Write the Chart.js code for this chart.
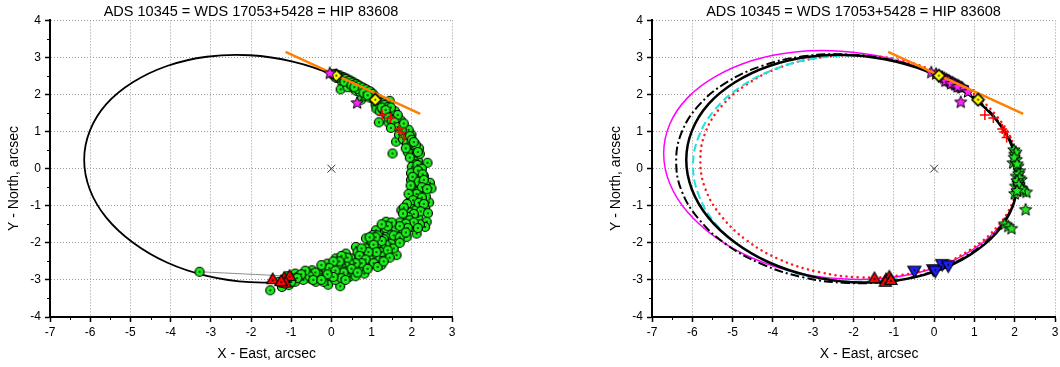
<!DOCTYPE html>
<html>
<head>
<meta charset="utf-8">
<script src="https://cdn.jsdelivr.net/npm/chart.js@4/dist/chart.umd.min.js"></script>
<style>
html, body { margin: 0; padding: 0; background: #fff; overflow: hidden; width: 1060px; height: 367px; }
.box { position: absolute; top: 0; }
</style>
</head>
<body>
<div class="box" style="left:0"><canvas id="orbitLeft" width="530" height="367"></canvas></div>
<div class="box" style="left:530px"><canvas id="orbitRight" width="540" height="367"></canvas></div>
<script>
// ---- data (x = East arcsec, y = North arcsec) ----
var titleText = 'ADS 10345 = WDS 17053+5428 = HIP 83608';
var xTicks = [-7, -6, -5, -4, -3, -2, -1, 0, 1, 2, 3];
var yTicks = [-4, -3, -2, -1, 0, 1, 2, 3, 4];

// orbit solutions, points picked round each apparent ellipse (loops start on the hidden east side)
var orbitMain = [[2.09,-0.24],[1.95,-1.02],[1.54,-1.74],[0.88,-2.33],[0.03,-2.77],[-0.96,-3.02],[-2.03,-3.06],[-3.10,-2.89],[-4.09,-2.53],[-4.94,-1.99],[-5.60,-1.32],[-6.01,-0.56],[-6.15,0.24],[-6.01,1.02],[-5.60,1.74],[-4.94,2.33],[-4.09,2.77],[-3.10,3.02],[-2.03,3.06],[-0.96,2.89],[0.03,2.53],[0.88,1.99],[1.54,1.32],[1.95,0.56],[2.09,-0.24]];
var orbitMagenta = [[2.09,-0.21],[1.94,-1.00],[1.50,-1.71],[0.80,-2.29],[-0.11,-2.72],[-1.17,-2.95],[-2.31,-2.97],[-3.45,-2.79],[-4.51,-2.41],[-5.42,-1.85],[-6.12,-1.17],[-6.56,-0.40],[-6.71,0.41],[-6.56,1.20],[-6.12,1.91],[-5.42,2.49],[-4.51,2.92],[-3.45,3.15],[-2.31,3.17],[-1.17,2.99],[-0.11,2.61],[0.80,2.05],[1.50,1.37],[1.94,0.60],[2.09,-0.21]];
var orbitDashDot = [[2.09,-0.20],[1.95,-0.99],[1.52,-1.72],[0.85,-2.32],[-0.03,-2.77],[-1.06,-3.03],[-2.16,-3.08],[-3.25,-2.93],[-4.28,-2.57],[-5.16,-2.04],[-5.83,-1.37],[-6.26,-0.61],[-6.40,0.20],[-6.26,0.99],[-5.83,1.72],[-5.16,2.32],[-4.28,2.77],[-3.25,3.03],[-2.16,3.08],[-1.06,2.93],[-0.03,2.57],[0.85,2.04],[1.52,1.37],[1.95,0.61],[2.09,-0.20]];
var orbitCyan = [[-0.90,-2.97],[-1.95,-3.05],[-2.99,-2.93],[-3.96,-2.60],[-4.80,-2.10],[-5.44,-1.46],[-5.84,-0.71],[-5.98,0.08],[-5.84,0.87],[-5.44,1.59],[-4.80,2.21],[-3.96,2.68],[-2.99,2.97],[-1.95,3.05],[-0.90,2.93]];
var orbitRed = [[2.09,-0.10],[1.96,-0.87],[1.56,-1.57],[0.93,-2.16],[0.12,-2.61],[-0.83,-2.87],[-1.86,-2.93],[-2.88,-2.78],[-3.83,-2.45],[-4.64,-1.94],[-5.27,-1.29],[-5.67,-0.56],[-5.80,0.22],[-5.67,0.99],[-5.27,1.69],[-4.64,2.28],[-3.83,2.73],[-2.88,2.99],[-1.86,3.05],[-0.83,2.93],[0.12,2.57],[0.93,2.06],[1.56,1.41],[1.96,0.68],[2.09,-0.10]];

var tangentLine = [[-1.14,3.15],[2.21,1.48]];
var primaryStar = [[0,0]];

// left panel: all measures
var measures = [
  [0.02,2.55],[0.08,2.5],[0.15,2.47],[0.2,2.52],[0.24,2.44],[0.3,2.47],[0.33,2.4],[0.38,2.43],[0.42,2.35],[0.47,2.38],[0.5,2.3],[0.55,2.33],[0.58,2.26],[0.63,2.28],[0.66,2.2],[0.7,2.23],[0.75,2.15],[0.79,2.18],[0.83,2.1],[0.88,2.12],[0.92,2.04],[0.97,2.07],[1.0,1.98],[0.27,2.33],[0.36,2.28],[0.45,2.22],[0.54,2.17],[0.62,2.1],[0.23,2.14],[0.4,2.2],[0.71,2.07],[0.74,1.86],[0.85,1.96],[1.05,1.88],[1.18,1.82],[1.45,1.83],[1.1,1.73],[1.22,1.7],[0.95,1.92],
  [0.1,2.56],[0.18,2.5],[0.28,2.44],[0.35,2.42],[0.44,2.37],[0.52,2.32],[0.6,2.28],[0.68,2.24],[0.77,2.19],[0.86,2.14],[0.95,2.09],[1.03,2.02],[1.08,1.95],[0.32,2.35],[0.5,2.25],[0.66,2.15],[0.8,2.05],[0.9,1.98],[1.13,1.9],[1.25,1.78],[1.32,1.72],[1.4,1.66],[0.12,2.45],[0.57,2.2],
  [1.12,1.62],[1.2,1.55],[1.28,1.6],[1.33,1.52],[1.38,1.45],[1.45,1.5],[1.52,1.42],[1.58,1.55],[1.55,1.33],[1.62,1.38],[1.67,1.25],[1.73,1.3],[1.6,1.18],[1.7,1.15],[1.78,1.12],[1.82,1.02],[1.72,0.98],[1.88,0.92],[1.8,0.85],[1.93,0.8],[1.85,0.72],[1.98,0.7],[1.92,0.62],[2.03,0.58],[1.97,0.5],[2.08,0.48],[2.02,0.4],[2.12,0.36],[2.06,0.28],[2.15,0.22],[1.18,1.25],[1.42,1.25],[1.61,0.73],[1.52,0.41],[2.39,0.16],[2.18,0.55],[1.99,0.92],[1.65,1.45],[1.48,1.65],[1.92,1.05],[2.1,0.65],[2.2,0.4],
  [1.25,1.65],[1.35,1.58],[1.42,1.38],[1.5,1.3],[1.57,1.25],[1.65,1.12],[1.75,1.05],[1.68,0.92],[1.78,0.8],[1.88,0.68],[1.95,0.88],[2.0,0.78],[1.9,0.45],[2.05,0.2],[1.95,0.3],[2.15,0.45],[1.85,0.55],[1.48,1.1],[1.8,1.22],[2.05,0.72],
  [2.1,0.12],[2.18,0.05],[2.08,-0.02],[2.22,-0.08],[2.12,-0.15],[2.2,-0.22],[2.1,-0.28],[2.24,-0.32],[2.05,-0.38],[2.17,-0.42],[2.28,-0.45],[2.1,-0.5],[2.22,-0.55],[2.02,-0.58],[2.15,-0.62],[2.28,-0.62],[2.05,-0.7],[2.18,-0.72],[1.98,-0.78],[2.1,-0.82],[2.22,-0.86],[1.95,-0.9],[2.05,-0.95],[2.15,-1.0],[1.9,-1.02],[2.0,-1.08],[1.85,-1.12],[2.1,-1.12],[1.95,-1.18],[2.45,-0.38],[2.49,-0.53],[2.43,-0.91],[2.33,-1.07],[2.16,-1.3],[1.74,-1.12],[2.3,-0.2],[2.35,-0.75],[1.98,-0.3],
  [2.0,0.05],[2.14,0.1],[2.25,0.0],[1.98,-0.12],[2.15,-0.05],[2.27,-0.15],[2.02,-0.22],[2.17,-0.35],[2.3,-0.3],[1.97,-0.45],[2.25,-0.5],[2.12,-0.68],[2.25,-0.78],[1.92,-0.68],[2.03,-0.85],[2.17,-0.92],[1.88,-0.95],[2.3,-0.95],[2.22,-1.15],[2.05,-1.22],[1.9,-1.3],[1.8,-1.05],[2.38,-0.55],[2.4,-1.2],
  [1.36,-1.43],[1.57,-1.52],[1.78,-1.21],[1.95,-1.39],[2.12,-1.75],[2.37,-1.43],[2.33,-1.57],[2.2,-1.5],[1.62,-1.75],[1.45,-1.93],[1.28,-1.75],[1.11,-1.66],[1.07,-1.93],[0.95,-2.11],[1.2,-2.11],[1.36,-2.36],[1.62,-2.33],[1.49,-2.02],[0.78,-2.29],[0.61,-2.42],[0.82,-2.56],[0.95,-2.6],[1.24,-2.6],[0.82,-2.83],[0.49,-2.42],[0.28,-2.56],[0.44,-2.74],[0.44,-2.92],[0.19,-2.83],[0.03,-2.65],[0.11,-2.42],[0.36,-2.29],[0.61,-2.11],[0.86,-1.88],[1.03,-1.79],[1.78,-1.66],[1.87,-1.84],[1.99,-1.57],[-0.1,-2.56],[-0.23,-2.74],[-0.31,-2.87],[-0.39,-3.05],[-0.08,-3.13],[0.22,-3.17],[-0.48,-2.74],[-0.64,-2.92],[-0.9,-2.83],[-0.9,-3.05],[-1.06,-3.14],[-1.23,-3.19],[-1.52,-3.28],[-1.31,-3.05],
  [1.5,-1.6],[1.4,-1.75],[1.3,-1.9],[1.15,-2.0],[1.0,-2.2],[0.9,-2.35],[0.7,-2.45],[0.55,-2.6],[0.35,-2.65],[0.2,-2.7],[0.0,-2.8],[-0.15,-2.9],[-0.3,-2.95],[-0.5,-2.98],[-0.7,-3.0],[-0.8,-2.9],[1.7,-1.45],[1.6,-1.6],[1.25,-2.25],[1.1,-2.4],[0.95,-2.45],[0.7,-2.65],[0.55,-2.8],[0.3,-2.45],[0.15,-2.6],[0.65,-2.25],[0.85,-2.15],[1.0,-1.95],[1.15,-1.8],[1.35,-1.6],[-0.2,-3.05],[0.6,-2.9],[0.1,-3.0],[-1.0,-2.95],[-1.15,-3.1],[-0.6,-2.8],[-3.28,-2.78],
  [2.05,-1.45],[1.85,-1.48],[1.9,-1.6],[2.15,-1.6],[1.7,-1.55],[1.5,-1.45],[1.4,-1.55],[1.25,-1.5],[1.55,-1.8],[1.7,-1.85],[1.35,-2.05],[1.55,-2.15],[1.25,-1.95],[1.1,-1.85],[0.95,-1.85],[1.05,-2.05],[1.12,-2.25],[0.92,-2.25],[0.75,-2.15],[0.7,-2.35],[0.85,-2.45],[1.05,-2.55],[1.15,-2.65],[0.75,-2.55],[0.6,-2.55],[0.45,-2.55],[0.5,-2.7],[0.3,-2.8],[0.4,-2.4],[0.25,-2.35],[0.2,-2.5],[0.05,-2.5],[-0.05,-2.68],[0.1,-2.75],[0.25,-2.95],[0.05,-2.92],[-0.1,-2.85],[-0.25,-2.6],[-0.4,-2.8],[-0.55,-2.9],[-0.45,-3.0],[-0.65,-2.75],[-0.75,-2.85],[-0.85,-2.95],[-1.0,-3.05],[-1.1,-2.9],[-0.25,-3.0],[0.35,-3.0],[0.65,-2.8],[0.9,-2.7],[1.4,-2.2],[1.45,-2.4],[1.3,-2.5],[1.7,-2.0],[1.85,-1.72]
];
var residualLine = [[-3.28,-2.78],[-1.0,-2.9]];
var triUpLeft = [[-1.46,-2.98],[-1.17,-2.94],[-1.04,-2.89],[-1.14,-3.07],[-1.25,-3.03]];
var crossPts = [[1.26,1.45],[1.47,1.37],[1.69,1.07],[1.74,0.99],[1.8,0.84]];
var diamondPts = [[0.12,2.51],[1.09,1.86]];
var starsLeft = [[-0.04,2.57],[0.64,1.77]];

// right panel: measures grouped by technique
var starsMagenta = [[-0.07,2.59],[0.05,2.55],[0.2,2.47],[0.25,2.44],[0.3,2.41],[0.33,2.38],[0.37,2.37],[0.4,2.34],[0.45,2.32],[0.48,2.3],[0.52,2.27],[0.55,2.26],[0.6,2.24],[0.63,2.21],[0.67,2.19],[0.7,2.18],[0.28,2.36],[0.42,2.29],[0.58,2.21],[0.84,2.07],[0.66,1.79]];
var starsGreen = [[1.98,0.5],[2.0,0.38],[2.04,0.24],[1.96,0.15],[2.08,0.06],[2.12,-0.07],[2.04,-0.21],[2.16,-0.3],[2.08,-0.39],[2.02,-0.48],[2.14,-0.52],[2.21,-0.61],[2.0,-0.68],[2.29,-0.64],[2.27,-1.11],[1.75,-1.5],[1.84,-1.56],[1.92,-1.62],[2.03,0.44],[1.99,0.3],[2.06,0.12],[2.1,-0.14],[2.12,-0.26],[2.06,-0.33],[2.1,-0.44],[2.18,-0.56],[2.06,-0.6]];
var triDownPts = [[-0.49,-2.76],[-0.02,-2.72],[0.2,-2.58],[0.35,-2.62],[0.03,-2.76]];
var triUpRight = [[-1.48,-2.95],[-1.19,-2.98],[-1.11,-2.91],[-1.21,-3.05],[-1.07,-3.0]];

// ---- helpers ----
function pts(a) { return a.map(function (p) { return {x: p[0], y: p[1]}; }); }

function marker(size, draw) {
  var c = document.createElement('canvas');
  c.width = c.height = size;
  var g = c.getContext('2d');
  g.translate(size / 2, size / 2);
  draw(g);
  return c;
}
function dot(g) { g.fillStyle = '#000'; g.beginPath(); g.arc(0, 0, 0.9, 0, Math.PI * 2); g.fill(); }
function poly(g, r, n, start) {
  g.beginPath();
  for (var i = 0; i < n; i++) { var a = start + i * 2 * Math.PI / n; g.lineTo(r * Math.cos(a), r * Math.sin(a)); }
  g.closePath();
}
function star(g, ro, ri) {
  g.beginPath();
  for (var i = 0; i < 10; i++) { var r = i % 2 ? ri : ro, a = -Math.PI / 2 + i * Math.PI / 5; g.lineTo(r * Math.cos(a), r * Math.sin(a)); }
  g.closePath();
}
function paint(g, fill, lw) { g.fillStyle = fill; g.fill(); g.lineWidth = lw; g.strokeStyle = '#000'; g.stroke(); }

var imgCircle = marker(12, function (g) { g.beginPath(); g.arc(0, 0, 4.5, 0, Math.PI * 2); paint(g, '#1bef1b', 1.2); dot(g); });
var imgTriUp = marker(16, function (g) { g.translate(0, 1); poly(g, 7, 3, -Math.PI / 2); paint(g, '#ff0000', 1.2); dot(g); });
var imgTriDown = marker(17, function (g) { g.translate(0, -1); poly(g, 7.5, 3, Math.PI / 2); paint(g, '#1f1fff', 1.2); dot(g); });
var imgDiamond = marker(15, function (g) { poly(g, 6, 4, 0); paint(g, '#ffff00', 1.6); dot(g); });
var imgStarMag = marker(16, function (g) { star(g, 6.5, 2.8); paint(g, '#ff22ff', 1); });
var imgStarGreen = marker(16, function (g) { star(g, 6.5, 2.8); paint(g, '#22e622', 1); });

function points(data, img) {
  return {data: pts(data), pointStyle: img, pointRadius: 5, showLine: false};
}
function curve(data, color, width, dash) {
  return {data: pts(data), showLine: true, pointRadius: 0, borderColor: color, borderWidth: width,
          borderDash: dash || [], borderCapStyle: dash && dash[0] < 1 ? 'round' : 'butt', tension: 0.4, fill: false};
}
var centreCross = {data: pts(primaryStar), pointStyle: 'crossRot', pointRadius: 5.5, pointBorderColor: '#333', pointBorderWidth: 1, showLine: false};
var redCrosses = {data: pts(crossPts), pointStyle: 'cross', pointRadius: 5, pointBorderColor: '#ff0000', pointBorderWidth: 1.5, showLine: false};

// minor ticks at the half units, drawn from the scales
var minorTicks = {
  id: 'minorTicks',
  afterDraw: function (chart) {
    var ctx = chart.ctx, a = chart.chartArea, sx = chart.scales.x, sy = chart.scales.y, v, p;
    ctx.save();
    ctx.strokeStyle = '#000';
    ctx.lineWidth = 1;
    ctx.beginPath();
    for (v = sx.min + 0.5; v < sx.max; v += 1) { p = Math.round(sx.getPixelForValue(v)) + 0.5; ctx.moveTo(p, a.bottom); ctx.lineTo(p, a.bottom + 3); }
    for (v = sy.min + 0.5; v < sy.max; v += 1) { p = Math.round(sy.getPixelForValue(v)) + 0.5; ctx.moveTo(a.left, p); ctx.lineTo(a.left - 3, p); }
    ctx.stroke();
    ctx.restore();
  }
};

Chart.defaults.font.family = "'Liberation Sans', Arial, sans-serif";
Chart.defaults.color = '#000';

function axis(min, max, title, horizontal) {
  return {
    type: 'linear', min: min, max: max,
    afterBuildTicks: function (s) { s.ticks = (horizontal ? xTicks : yTicks).map(function (v) { return {value: v}; }); },
    ticks: {color: '#000', font: {size: 12}, padding: horizontal ? 3 : 4, maxRotation: 0, autoSkip: false},
    grid: {color: '#9a9a9a', lineWidth: 1, tickLength: 5, tickColor: '#000', tickWidth: 1.5},
    border: {display: true, color: '#000', width: 2, dash: [1, 2]},
    title: {display: true, text: title, color: '#000', font: {size: 14},
            padding: horizontal ? {top: 0, bottom: 4} : {top: 6, bottom: 0}},
    afterFit: function (s) { if (horizontal) { s.height = 50; } else { s.width = 50; } }
  };
}

function makeChart(id, datasets, padLeft, padRight) {
  return new Chart(document.getElementById(id), {
    type: 'scatter',
    data: {datasets: datasets},
    plugins: [minorTicks],
    options: {
      responsive: false,
      animation: false,
      events: [],
      layout: {padding: {left: padLeft, right: padRight, top: 0, bottom: 0}},
      plugins: {
        legend: {display: false},
        tooltip: {enabled: false},
        title: {display: true, text: titleText, fullSize: false, color: '#000',
                font: {size: 14.5, weight: 'normal'}, padding: {top: 3, bottom: 0}}
      },
      scales: {
        x: axis(-7, 3, '        X - East, arcsec', true),
        y: axis(-4, 4, 'Y - North, arcsec     ', false)
      }
    }
  });
}

// first dataset is painted on top
makeChart('orbitLeft', [
  centreCross,
  points(starsLeft, imgStarMag),
  points(diamondPts, imgDiamond),
  redCrosses,
  points(triUpLeft, imgTriUp),
  curve(tangentLine, '#ff8000', 2.5),
  points(measures, imgCircle),
  curve(residualLine, '#8c8c8c', 1),
  curve(orbitMain, '#000', 1.8)
], 0, 78);

makeChart('orbitRight', [
  centreCross,
  points(diamondPts, imgDiamond),
  curve(tangentLine, '#ff8000', 2.5),
  points(starsMagenta, imgStarMag),
  redCrosses,
  points(starsGreen, imgStarGreen),
  points(triDownPts, imgTriDown),
  points(triUpRight, imgTriUp),
  curve(orbitMain, '#000', 2.5),
  curve(orbitDashDot, '#000', 2, [9, 3, 2, 3]),
  curve(orbitCyan, '#22e0e0', 2, [8, 4]),
  curve(orbitRed, '#ff1a1a', 2.5, [0.1, 5.5]),
  curve(orbitMagenta, '#ff00ff', 1.5)
], 72, 15);
</script>
</body>
</html>
